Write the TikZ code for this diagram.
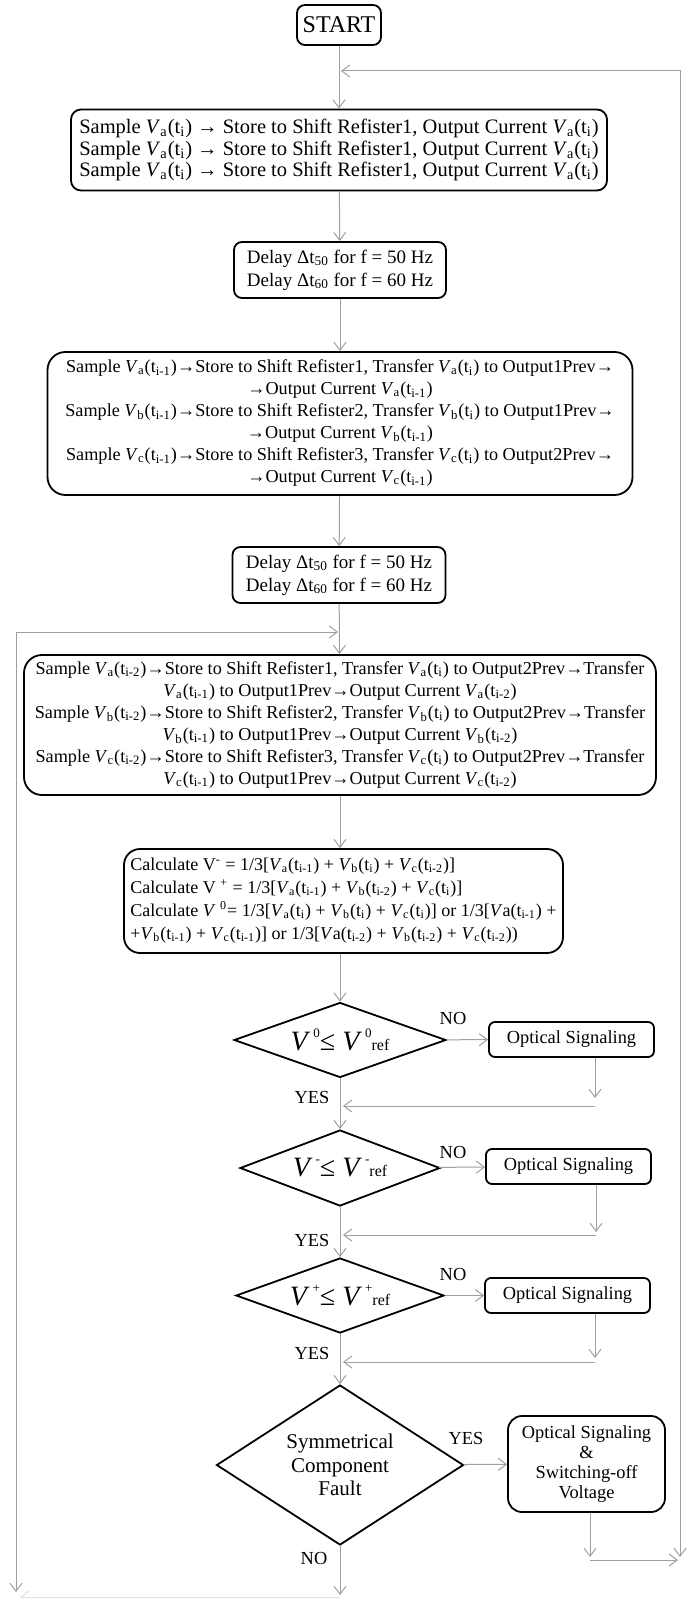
\documentclass[tikz,border=0pt]{standalone}
\usepackage{fontspec}
\setmainfont{Liberation Serif}
\usetikzlibrary{shapes.geometric,arrows.meta}
\newcommand{\Vt}[2]{\textit{V}\textsubscript{#1}(t\textsubscript{#2})}
\newcommand{\Vref}[1]{\textit{V}\kern1.5pt\raisebox{1.05ex}{\fontsize{6.5}{7}\selectfont #1}≤\ \textit{V}\kern1.5pt\raisebox{1.05ex}{\fontsize{6.5}{7}\selectfont #1}{\fontsize{8}{9}\selectfont ref}}

\begin{document}
\begin{tikzpicture}[x=0.5pt,y=-0.5pt]
        \tikzset{block/.style = {shape=rectangle,draw,line width=0.9pt,rounded corners=5pt,align=center,inner sep=0pt,font=\fontsize{9.1}{11}\selectfont}}
        \tikzset{decision/.style = {shape=diamond,draw,line width=0.9pt,inner sep=0pt,align=center}}
        \tikzset{conn/.style = {draw=gray!75,line width=0.5pt,-{Straight Barb[length=4pt,width=6pt]}}}
        \tikzset{tag/.style = {font=\fontsize{9.2}{10}\selectfont}}

        \useasboundingbox (0,0) rectangle (696,1598);

        \node[block,rounded corners=4pt,minimum width=42pt,minimum height=20pt,font=\fontsize{12}{13}\selectfont] (start) at (339,25) {START};

        \node[block,minimum width=268pt,minimum height=40.5pt,font=\fontsize{10.25}{10.8}\selectfont] (B1) at (339,150)
            {Sample \Vt{a}{i} → Store to Shift Refister1, Output Current \Vt{a}{i}\\
             Sample \Vt{a}{i} → Store to Shift Refister1, Output Current \Vt{a}{i}\\
             Sample \Vt{a}{i} → Store to Shift Refister1, Output Current \Vt{a}{i}};

        \node[block,rounded corners=4pt,minimum width=106pt,minimum height=28pt,font=\fontsize{9.5}{11.5}\selectfont] (D1) at (340,270)
            {Delay Δt\textsubscript{50} for f = 50 Hz\\ Delay Δt\textsubscript{60} for f = 60 Hz};

        \node[block,rounded corners=9pt,minimum width=292.5pt,minimum height=71.5pt] (B2) at (340,423.5)
            {Sample \Vt{a}{i-1}→Store to Shift Refister1, Transfer \Vt{a}{i} to Output1Prev→\\
             →Output Current \Vt{a}{i-1}\\
             Sample \Vt{b}{i-1}→Store to Shift Refister2, Transfer \Vt{b}{i} to Output1Prev→\\
             →Output Current \Vt{b}{i-1}\\
             Sample \Vt{c}{i-1}→Store to Shift Refister3, Transfer \Vt{c}{i} to Output2Prev→\\
             →Output Current \Vt{c}{i-1}};

        \node[block,rounded corners=4pt,minimum width=106.5pt,minimum height=28pt,font=\fontsize{9.5}{11.5}\selectfont] (D2) at (339,575)
            {Delay Δt\textsubscript{50} for f = 50 Hz\\ Delay Δt\textsubscript{60} for f = 60 Hz};

        \node[block,rounded corners=9pt,minimum width=316pt,minimum height=70pt] (B3) at (340,725)
            {Sample \Vt{a}{i-2}→Store to Shift Refister1, Transfer \Vt{a}{i} to Output2Prev→Transfer\\
             \Vt{a}{i-1} to Output1Prev→Output Current \Vt{a}{i-2}\\
             Sample \Vt{b}{i-2}→Store to Shift Refister2, Transfer \Vt{b}{i} to Output2Prev→Transfer\\
             \Vt{b}{i-1} to Output1Prev→Output Current \Vt{b}{i-2}\\
             Sample \Vt{c}{i-2}→Store to Shift Refister3, Transfer \Vt{c}{i} to Output2Prev→Transfer\\
             \Vt{c}{i-1} to Output1Prev→Output Current \Vt{c}{i-2}};

        \node[block,rounded corners=8pt,minimum width=219.5pt,minimum height=52pt,align=left,inner xsep=2.5pt,font=\fontsize{9}{11.5}\selectfont] (C1) at (343.5,901)
            {Calculate V\textsuperscript{-} = 1/3[\Vt{a}{i-1} + \Vt{b}{i} + \Vt{c}{i-2}]\\
             Calculate V \textsuperscript{+} = 1/3[\Vt{a}{i-1} + \Vt{b}{i-2} + \Vt{c}{i}]\\
             Calculate \textit{V} \textsuperscript{0}= 1/3[\Vt{a}{i} + \Vt{b}{i} + \Vt{c}{i}] or 1/3[\textit{V}a(t\textsubscript{i-1}) +\\
             +\Vt{b}{i-1} + \Vt{c}{i-1}] or 1/3[\textit{V}a(t\textsubscript{i-2}) + \Vt{b}{i-2} + \Vt{c}{i-2})};

        \node[decision,minimum width=106pt,minimum height=37.5pt,aspect=2.83,font=\fontsize{14}{15}\selectfont] (Q1) at (340,1040) {\Vref{0}};
        \node[block,rounded corners=3pt,minimum width=82.5pt,minimum height=17.5pt,font=\fontsize{9.2}{10}\selectfont] (O1) at (571.5,1039.5) {Optical Signaling};

        \node[decision,minimum width=100pt,minimum height=38pt,aspect=2.63,font=\fontsize{14}{15}\selectfont] (Q2) at (340,1168) {\Vref{-}};
        \node[block,rounded corners=3pt,minimum width=82.5pt,minimum height=17.5pt,font=\fontsize{9.2}{10}\selectfont] (O2) at (568.5,1166.5) {Optical Signaling};

        \node[decision,minimum width=104pt,minimum height=37.5pt,aspect=2.77,font=\fontsize{14}{15}\selectfont] (Q3) at (340,1295.5) {\Vref{+}};
        \node[block,rounded corners=3pt,minimum width=82.5pt,minimum height=17.5pt,font=\fontsize{9.2}{10}\selectfont] (O3) at (567.5,1295.5) {Optical Signaling};

        \node[decision,minimum width=123.5pt,minimum height=80pt,aspect=1.54,font=\fontsize{10.5}{11.7}\selectfont] (Q4) at (340,1465)
            {Symmetrical\\ Component\\ Fault};
        \node[block,rounded corners=7pt,minimum width=78.5pt,minimum height=48pt,font=\fontsize{9.2}{10}\selectfont] (O4) at (586.5,1464)
            {Optical Signaling\\ \&\\ Switching-off\\ Voltage};

        % labels
        \node[tag] (n1) at (453,1018) {NO};
        \node[tag] (y1) at (312,1097) {YES};
        \node[tag] (n2) at (453,1152) {NO};
        \node[tag] (y2) at (312,1240) {YES};
        \node[tag] (n3) at (453,1274) {NO};
        \node[tag] (y3) at (312,1353) {YES};
        \node[tag] (y4) at (466,1438) {YES};
        \node[tag] (n4) at (314,1558) {NO};

        % bend points
        \coordinate (j1) at (341,71);
        \coordinate (r1) at (680,71);
        \coordinate (r2) at (680,1557);
        \coordinate (j2) at (338,632);
        \coordinate (l1) at (16,632);
        \coordinate (l2) at (16,1592);
        \coordinate (a1) at (595,1098);
        \coordinate (b1) at (343,1106);
        \coordinate (a2) at (596,1232);
        \coordinate (b2) at (343,1235);
        \coordinate (a3) at (595,1358);
        \coordinate (b3) at (343,1362);
        \coordinate (a4) at (590,1557);
        \coordinate (b4) at (678,1560);
        \coordinate (e1) at (340,1595);
        \coordinate (e2) at (20,1597);

        % main line
        \draw[conn] (start) to (B1);
        \draw[conn] (B1) to (D1);
        \draw[conn] (D1) to (B2);
        \draw[conn] (B2) to (D2);
        \draw[conn] (D2) to (B3);
        \draw[conn] (B3.south) to (B3.south |- C1.north);
        \draw[conn] (C1.south -| Q1) to (Q1);
        \draw[conn] (Q1) to (Q2);
        \draw[conn] (Q2) to (Q3);
        \draw[conn] (Q3) to (Q4);
        \draw[conn] (Q4) to (e1);

        % side branches
        \draw[conn] (Q1) to (O1);
        \draw[conn] (Q2) to (O2);
        \draw[conn] (Q3) to (O3);
        \draw[conn] (Q4) to (O4);
        \draw[conn] (O1.south -| a1) to (a1);
        \draw[conn] (a1 |- b1) to (b1);
        \draw[conn] (O2.south -| a2) to (a2);
        \draw[conn] (a2 |- b2) to (b2);
        \draw[conn] (O3.south -| a3) to (a3);
        \draw[conn] (a3 |- b3) to (b3);
        \draw[conn] (O4.south -| a4) to (a4);
        \draw[conn] (a4 |- b4) to (b4);

        % loops
        \draw[conn,{Straight Barb[length=4pt,width=6pt]}-{Straight Barb[length=4pt,width=6pt]}] (r2) -- (r1) -- (j1);
        \draw[conn,{Straight Barb[length=4pt,width=6pt]}-{Straight Barb[length=4pt,width=6pt]}] (l2) -- (l1) -- (j2);
        \draw[conn,draw=gray!25] (e1 |- e2) to (e2);
\end{tikzpicture}
\end{document}
